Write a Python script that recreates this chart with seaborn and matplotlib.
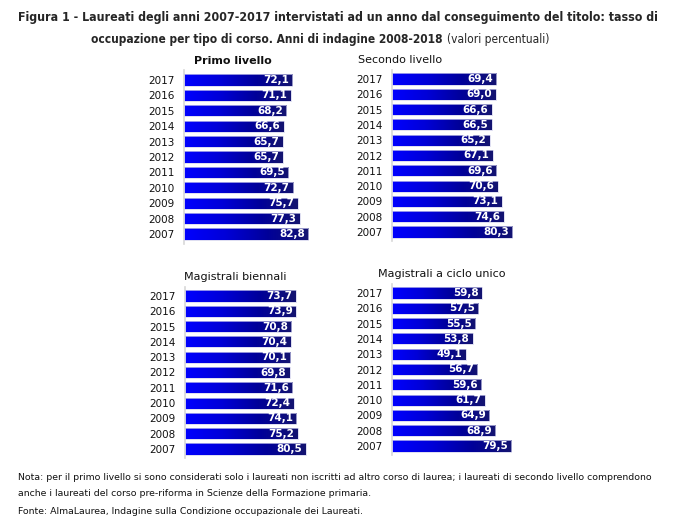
import numpy as np
import pandas as pd
import matplotlib
matplotlib.use('Agg')
import matplotlib.pyplot as plt
from matplotlib.colors import LinearSegmentedColormap
import seaborn as sns

# Data (valori percentuali)
anni = ['2017', '2016', '2015', '2014', '2013', '2012', '2011', '2010', '2009', '2008', '2007']
primo_livello = [72.1, 71.1, 68.2, 66.6, 65.7, 65.7, 69.5, 72.7, 75.7, 77.3, 82.8]
secondo_livello = [69.4, 69.0, 66.6, 66.5, 65.2, 67.1, 69.6, 70.6, 73.1, 74.6, 80.3]
magistrali_biennali = [73.7, 73.9, 70.8, 70.4, 70.1, 69.8, 71.6, 72.4, 74.1, 75.2, 80.5]
magistrali_ciclo_unico = [59.8, 57.5, 55.5, 53.8, 49.1, 56.7, 59.6, 61.7, 64.9, 68.9, 79.5]

titoli = ['Primo livello', 'Secondo livello', 'Magistrali biennali', 'Magistrali a ciclo unico']
serie = [primo_livello, secondo_livello, magistrali_biennali, magistrali_ciclo_unico]

sns.set_style('white')
plt.rcParams['font.family'] = ['DejaVu Sans']

W, H = 699, 523
fig = plt.figure(figsize=(W / 100, H / 100), dpi=100)

# panel geometry in pixels: x of zero, y of first/last row centres, title x
panels = [
    (184, 80, 234, 233),
    (392, 79, 232, 400),
    (185, 296, 449, 235),
    (392, 293, 446, 442),
]
px_per_unit = 1.5

cmap = LinearSegmentedColormap.from_list('grad', ['#0000ff', '#0000d8', '#00009a', '#141470'])
grad = np.linspace(0, 1, 256).reshape(1, -1)

for (x0, y_top, y_bot, tx), titolo, valori in zip(panels, titoli, serie):
    step = (y_bot - y_top) / 10
    top = y_top - 0.62 * step
    bot = y_bot + 0.62 * step
    width = 100 * px_per_unit
    ax = fig.add_axes([x0 / W, 1 - bot / H, width / W, (bot - top) / H])
    df = pd.DataFrame({'anno': anni, 'valore': valori})
    sns.barplot(data=df, x='valore', y='anno', order=anni, orient='h',
                color='#0000f0', width=0.72, ax=ax)
    ax.set_xlabel('')
    ax.set_ylabel('')
    ax.set_xticks([])
    ax.tick_params(axis='y', length=0, pad=7, labelsize=7.5, labelcolor='#111111')
    for s in ['top', 'right', 'bottom']:
        ax.spines[s].set_visible(False)
    ax.spines['left'].set_color('#d8d8d8')
    ax.spines['left'].set_linewidth(1.2)

    for patch, v in zip(ax.patches, valori):
        bx, by = patch.get_x(), patch.get_y()
        bw, bh = patch.get_width(), patch.get_height()
        im = ax.imshow(grad, cmap=cmap, aspect='auto',
                       extent=(bx, bx + bw, by + bh, by), zorder=2)
        im.set_clip_path(patch)
        patch.set_edgecolor('#d0d0ec')
        patch.set_linewidth(0.5)
        patch.set_zorder(3)
        patch.set_facecolor('none')
        ax.text(bx + bw - 2.2, by + bh / 2, f'{v:.1f}'.replace('.', ','),
                ha='right', va='center', color='white', fontsize=7.5,
                fontweight='bold', zorder=4)
    ax.set_xlim(0, 100)
    ax.set_ylim(10.62, -0.62)

    fig.text(tx / W, 1 - (y_top - 19) / H, titolo, ha='center', va='center',
             fontsize=8, color='#111111',
             fontweight='bold' if titolo == 'Primo livello' else 'normal')

# Title
fig.text(18 / W, 1 - 17 / H,
         'Figura 1 - Laureati degli anni 2007-2017 intervistati ad un anno dal conseguimento del titolo: tasso di',
         ha='left', va='center', fontsize=8.9, fontweight='bold', fontstretch='condensed')
t2 = fig.text(91 / W, 1 - 40 / H,
              'occupazione per tipo di corso. Anni di indagine 2008-2018',
              ha='left', va='center', fontsize=8.6, fontweight='bold', fontstretch='condensed')
fig.canvas.draw()
bb = t2.get_window_extent()
fig.text(bb.x1 / W + 4 / W, 1 - 40 / H, '(valori percentuali)',
         ha='left', va='center', fontsize=8.6, fontstretch='condensed')

# Notes
fig.text(18 / W, 1 - 478 / H,
         'Nota: per il primo livello si sono considerati solo i laureati non iscritti ad altro corso di laurea; '
         'i laureati di secondo livello comprendono',
         ha='left', va='center', fontsize=6.75, color='#111111')
fig.text(18 / W, 1 - 493 / H,
         'anche i laureati del corso pre-riforma in Scienze della Formazione primaria.',
         ha='left', va='center', fontsize=6.75, color='#111111')
fig.text(18 / W, 1 - 511 / H,
         'Fonte: AlmaLaurea, Indagine sulla Condizione occupazionale dei Laureati.',
         ha='left', va='center', fontsize=6.75, color='#111111')

fig.savefig('out.png', dpi=100)
